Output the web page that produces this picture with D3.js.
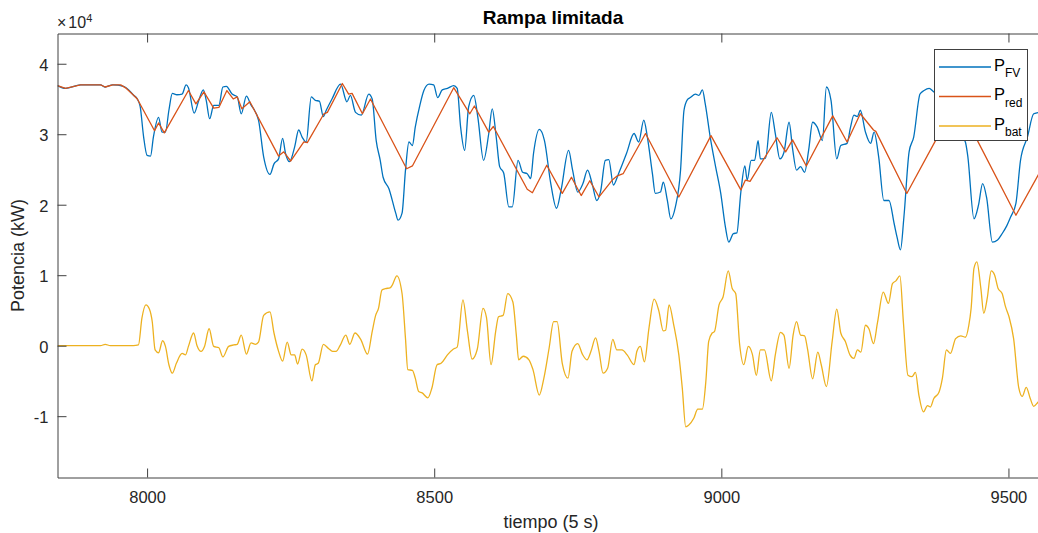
<!DOCTYPE html>
<html>
<head>
<meta charset="utf-8">
<script src="https://cdn.jsdelivr.net/npm/d3@7"></script>
<style>
  body { margin: 0; background: #fff; }
  svg { display: block; }
  text { font-family: "Liberation Sans", Arial, Helvetica, sans-serif; }
</style>
</head>
<body>
<div id="chart"></div>
<script>
// tiempo (5 s) and potencia (kW)
const tFV = [7844,7858,7884,7919,7927,7940,7959,7977,7983,7988,7994,8000,8006,8011,8020,8026,8032,8038,8044,8052,8061,8068,8072,8082,8090,8098,8103,8109,8116,8125,8132,8138,8148,8157,8164,8173,8180,8194,8203,8214,8221,8229,8236,8241,8248,8257,8264,8270,8277,8286,8293,8300,8307,8312,8322,8337,8348,8354,8363,8373,8386,8392,8399,8406,8411,8421,8433,8437,8444,8450,8456,8462,8467,8475,8482,8491,8499,8506,8514,8523,8534,8540,8546,8553,8560,8569,8576,8586,8595,8601,8608,8614,8621,8630,8636,8646,8654,8662,8668,8673,8683,8692,8703,8713,8721,8734,8741,8750,8759,8767,8775,8783,8790,8798,8804,8812,8821,8835,8848,8856,8865,8871,8880,8885,8894,8899,8906,8912,8920,8929,8935,8941,8946,8955,8961,8967,8972,8981,8990,8999,9007,9013,9021,9027,9034,9041,9045,9052,9058,9064,9068,9077,9087,9094,9102,9109,9118,9124,9131,9138,9145,9152,9159,9167,9176,9183,9191,9201,9208,9219,9225,9231,9237,9242,9251,9260,9266,9274,9283,9292,9301,9306,9312,9318,9327,9335,9346,9353,9362,9370,9391,9408,9420,9425,9429,9440,9448,9455,9462,9472,9481,9489,9497,9504,9513,9521,9533,9544,9553,9568];
const pFV = [36900,36500,37000,37000,36700,37000,36800,35500,35000,33900,29600,27000,26900,29600,32400,30300,30300,33400,35800,35600,35700,37000,36600,33000,34800,36300,34800,32200,34100,34100,36700,36800,35700,35300,32900,35400,34300,32000,26800,24300,25800,26500,29400,27300,26100,28200,30600,29600,28900,35300,34800,34700,32500,33400,35000,37100,34600,35500,33100,32700,35700,35000,29100,26300,23900,22300,18800,17800,18800,24900,28900,28400,31000,34100,36200,37100,37000,35200,36300,36500,36900,36500,31000,27700,33900,35500,32400,26300,30100,33600,29600,25400,24500,19700,19700,26300,24600,24400,23700,27300,30700,29100,23000,19500,22100,27700,24900,21800,23000,24900,23000,20600,22000,26300,26400,22800,24400,27300,30100,28900,32000,29700,24400,21600,21800,23200,20600,18000,19700,24900,33400,34900,35200,35700,35500,36300,34300,29400,25400,21600,16900,14700,15900,16000,21800,25500,23500,26300,26300,29100,26500,26600,33100,30100,26500,27400,31700,28000,24900,25400,24600,27700,31700,31000,29100,36700,34800,26500,28400,28700,31000,32700,32500,33400,30300,28700,30300,26800,20600,20600,17300,15400,13600,18300,27500,29600,35700,36200,36500,36000,35500,33000,29500,28900,27000,18000,20000,23000,21000,14700,15000,15900,17000,18300,20200,26300,29600,32900,33100,33600];

const tRed = [7844,7858,7884,7919,7927,7940,7954,7964,7977,7983,8013,8020,8030,8072,8085,8099,8116,8125,8139,8150,8157,8165,8179,8229,8238,8250,8273,8279,8308,8314,8340,8351,8357,8375,8389,8452,8462,8534,8562,8570,8595,8603,8662,8671,8696,8723,8739,8756,8771,8787,8810,8819,8829,8868,8926,8982,9034,9042,9050,9097,9112,9124,9148,9194,9219,9242,9265,9269,9323,9373,9410,9446,9513,9553,9568];
const pRed = [36900,36500,37000,37000,36700,37000,37000,36500,35500,35000,30500,31600,30200,36200,34300,36000,33700,33800,36200,35000,35300,33600,34600,26900,27500,26200,28900,28800,32900,33100,37200,35700,35800,32900,35000,25100,25500,36600,32900,34000,30300,31100,22200,21700,25600,21600,23900,21300,23400,21100,23500,24100,24400,30100,21100,29800,22100,23500,23300,29500,27500,29200,25500,32600,28900,32900,30600,30400,21600,29100,34600,29100,18500,24400,26600];

const tBat = [7844,7919,7927,7936,7976,7985,7991,7998,8004,8009,8014,8020,8027,8032,8038,8044,8051,8061,8067,8072,8081,8087,8094,8100,8108,8116,8125,8132,8142,8151,8157,8164,8173,8181,8189,8194,8203,8214,8221,8229,8236,8244,8251,8257,8262,8270,8277,8287,8293,8298,8307,8316,8323,8329,8336,8346,8353,8362,8372,8384,8392,8398,8403,8409,8415,8423,8427,8435,8444,8450,8454,8462,8467,8473,8479,8489,8496,8505,8512,8523,8533,8540,8550,8558,8566,8575,8585,8591,8599,8607,8612,8620,8628,8637,8643,8647,8655,8665,8672,8683,8691,8700,8708,8714,8723,8733,8740,8750,8758,8766,8773,8781,8787,8794,8802,8811,8818,8827,8836,8848,8853,8859,8866,8874,8883,8891,8899,8903,8909,8917,8926,8932,8938,8943,8952,8959,8967,8973,8978,8984,8988,8996,9003,9012,9019,9025,9032,9039,9047,9054,9061,9068,9075,9087,9094,9103,9109,9118,9125,9131,9138,9145,9150,9159,9168,9174,9183,9193,9201,9208,9216,9224,9231,9237,9243,9251,9257,9265,9272,9282,9291,9298,9304,9311,9317,9325,9332,9338,9344,9352,9359,9364,9370,9379,9385,9392,9399,9408,9417,9425,9431,9435,9440,9445,9452,9457,9463,9470,9476,9482,9489,9495,9501,9509,9518,9524,9531,9538,9544,9553,9568];
const pBat = [0,0,200,0,0,100,3900,5800,5200,3400,-600,-1000,700,-100,-2700,-3900,-2500,-1100,-1300,-100,1800,0,-800,-100,2400,-100,-300,-1600,-100,100,200,1500,-1200,400,200,500,4300,4800,1800,-800,-2200,500,-1300,-1300,-2600,-500,-1300,-5000,-2700,-2500,200,-400,-800,-800,0,1500,200,1800,900,-1200,2000,4300,5300,7900,8100,8200,8600,9900,7400,1000,-3400,-3500,-4600,-6500,-6700,-7400,-6000,-2700,-2500,-1300,-500,-200,6500,2000,-1900,-500,5300,4000,-2700,2000,4100,4300,7400,6200,1500,-2000,-1500,-2000,-3400,-7000,-4600,-400,3400,3400,-2500,-4600,-800,300,-1200,-2000,-800,1100,-800,-3900,-3200,900,-600,-600,-1300,-2700,-800,-100,-2300,2500,6600,5000,2100,2200,5800,3000,-1300,-6000,-11500,-11300,-10300,-9000,-9000,-5100,600,1800,2000,5800,6900,10600,8100,7400,100,-2700,-100,-1200,-4200,-600,-600,-5000,-1300,1900,1500,-3200,1500,3400,1500,1400,-400,-4700,-900,-2700,-5800,600,5200,1800,600,-1300,-1800,-600,-900,2900,2400,300,3300,7600,6000,8800,9200,9900,3400,-4200,-4400,-3800,-7000,-9400,-8500,-8700,-7500,-6600,-4600,-600,-1100,1000,1400,1200,2900,5300,11000,11900,8100,4600,6700,10600,10000,8100,7400,5500,4100,1000,-6000,-7200,-5900,-7500,-8600,-7900,-7500];

const xTicks = [8000, 8500, 9000, 9500];
const yTicks = [-10000, 0, 10000, 20000, 30000, 40000];
const seriesNames = ["FV", "red", "bat"];
const seriesColors = ["#0072BD", "#D95319", "#EDB120"];

const wSvg = 1038, hSvg = 533;
const plotLeft = 57.5, plotRight = 1047.5, plotTop = 33.5, plotBottom = 477.5;
const axisColor = "#404040";

const svg = d3.select("#chart").append("svg")
  .attr("width", wSvg)
  .attr("height", hSvg)
  .style("background", "#fff");

const xScale = d3.scaleLinear([7844, 9568], [plotLeft, plotRight]);
const yScale = d3.scaleLinear([-18700, 44290], [plotBottom, plotTop]);

// clip the curves to the plot box
svg.append("clipPath").attr("id", "plotArea")
   .append("rect")
   .attr("x", plotLeft).attr("y", plotTop)
   .attr("width", plotRight - plotLeft).attr("height", plotBottom - plotTop);

// measured signals are smooth, the ramp-limited one has sharp corners
const smoothLine = d3.line()
  .x(d => xScale(d[0]))
  .y(d => yScale(d[1]))
  .curve(d3.curveMonotoneX);
const rampLine = d3.line()
  .x(d => xScale(d[0]))
  .y(d => yScale(d[1]));

const lines = [
  { data: d3.zip(tFV, pFV), maker: smoothLine },
  { data: d3.zip(tRed, pRed), maker: rampLine },
  { data: d3.zip(tBat, pBat), maker: smoothLine }
];

const plot = svg.append("g").attr("clip-path", "url(#plotArea)");
lines.forEach((s, i) => {
  plot.append("path")
      .datum(s.data)
      .attr("fill", "none")
      .attr("stroke", seriesColors[i])
      .attr("stroke-width", 1.3)
      .attr("stroke-linejoin", "round")
      .attr("d", s.maker);
});

// axes, box on, ticks pointing inward
function styleAxis(g) {
  g.select(".domain").attr("stroke", axisColor);
  g.selectAll(".tick line").attr("stroke", axisColor);
  g.selectAll(".tick text")
   .attr("fill", "#262626")
   .style("font-size", "16.5px")
   .style("font-family", "'Liberation Sans', Arial, Helvetica, sans-serif");
}

svg.append("g")
   .attr("transform", `translate(0, ${plotBottom})`)
   .call(d3.axisBottom(xScale).tickValues(xTicks).tickSizeInner(-9).tickSizeOuter(0).tickPadding(14)
          .tickFormat(d => String(d)))
   .call(styleAxis);

svg.append("g")
   .attr("transform", `translate(0, ${plotTop})`)
   .call(d3.axisTop(xScale).tickValues(xTicks).tickSizeInner(-9).tickSizeOuter(0).tickFormat(""))
   .call(styleAxis);

svg.append("g")
   .attr("transform", `translate(${plotLeft}, 0)`)
   .call(d3.axisLeft(yScale).tickValues(yTicks).tickSizeInner(-9).tickSizeOuter(0).tickPadding(9)
          .tickFormat(d => String(d / 10000)))
   .call(styleAxis)
   .selectAll(".tick text").attr("dy", "0.4em");

svg.append("g")
   .attr("transform", `translate(${plotRight}, 0)`)
   .call(d3.axisRight(yScale).tickValues(yTicks).tickSizeInner(-9).tickSizeOuter(0).tickFormat(""))
   .call(styleAxis);

// exponent label
const expo = svg.append("text")
   .attr("x", 57)
   .attr("y", 28.3)
   .attr("fill", "#262626")
   .style("font-size", "16px");
expo.append("tspan").text("×");
expo.append("tspan").attr("dx", 2).text("10");
expo.append("tspan").attr("dy", -6.5).style("font-size", "11px").text("4");

// title and axis labels
svg.append("text")
   .attr("x", 553).attr("y", 23.5)
   .attr("text-anchor", "middle")
   .style("font-size", "19px")
   .style("font-weight", "bold")
   .attr("fill", "#000")
   .text("Rampa limitada");

svg.append("text")
   .attr("x", 551).attr("y", 527.5)
   .attr("text-anchor", "middle")
   .style("font-size", "18px")
   .attr("fill", "#262626")
   .text("tiempo (5 s)");

svg.append("text")
   .attr("transform", "translate(24, 255.5) rotate(-90)")
   .attr("text-anchor", "middle")
   .style("font-size", "18px")
   .attr("fill", "#262626")
   .text("Potencia (kW)");

// legend
const legend = svg.append("g");
legend.append("rect")
      .attr("x", 934.5).attr("y", 49.5)
      .attr("width", 93).attr("height", 91)
      .attr("fill", "#fff")
      .attr("stroke", axisColor);

seriesNames.forEach((name, i) => {
  const y = 67 + i * 29.5;
  legend.append("line")
        .attr("x1", 939).attr("x2", 991)
        .attr("y1", y).attr("y2", y)
        .attr("stroke", seriesColors[i])
        .attr("stroke-width", 1.3);
  const label = legend.append("text")
        .attr("x", 994).attr("y", y + 3.5)
        .attr("fill", "#000")
        .style("font-size", "16.5px");
  label.append("tspan").text("P");
  label.append("tspan").attr("dy", 6.5).style("font-size", "12px").text(name);
});
</script>
</body>
</html>
